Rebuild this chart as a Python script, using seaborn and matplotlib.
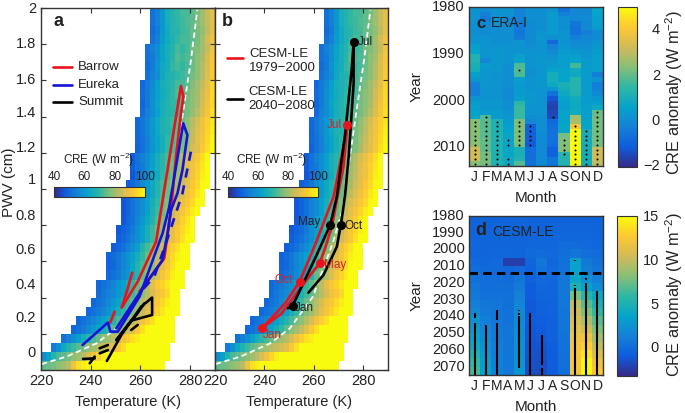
import numpy as np
import pandas as pd
import matplotlib
matplotlib.use("Agg")
import matplotlib.pyplot as plt
from matplotlib.colors import LinearSegmentedColormap
import seaborn as sns

# CRE (W m-2) binned on temperature (2 K) and PWV (0.05 cm), lowest PWV bin first
cre_first_temp = [220, 220, 224, 228, 232, 234, 238, 240, 242, 242,
                  246, 246, 246, 248, 250, 250, 252, 252, 252, 254,
                  254, 256, 256, 256, 258, 258, 258, 258, 260, 260,
                  260, 260, 262, 262, 262, 262, 264, 264, 264, 264]
cre_rows = [
    [74, 75, 76, 78, 80, 82, 90, 96, 98, 100, 100, 100, 100, 100, 100, 100, 100, 100, 100, 100, 100, 100, 100, 100, 100],
    [58, 62, 68, 72, 74, 76, 78, 80, 82, 86, 90, 94, 98, 100, 100, 100, 100, 100, 100, 100, 100, 100, 100, 100, 100, 100],
    [54, 58, 64, 68, 71, 74, 76, 78, 80, 82, 84, 86, 88, 92, 96, 100, 100, 100, 100, 100, 100, 100, 100, 100],
    [52, 55, 58, 62, 66, 69, 72, 75, 78, 80, 82, 86, 90, 93, 96, 98, 100, 100, 100, 100, 100, 100, 100],
    [50, 52, 54, 57, 60, 63, 66, 70, 74, 78, 80, 84, 88, 92, 96, 100, 100, 100, 100, 100, 100],
    [50, 52, 54, 56, 59, 62, 65, 68, 72, 76, 78, 82, 86, 90, 93, 96, 100, 100, 100, 100],
    [50, 52, 54, 56, 59, 62, 66, 70, 74, 77, 80, 84, 88, 91, 94, 97, 100, 100, 100],
    [50, 52, 54, 57, 60, 63, 67, 71, 75, 78, 82, 86, 90, 92, 95, 98, 100, 100],
    [51, 53, 55, 57, 60, 63, 67, 71, 74, 78, 82, 86, 90, 92, 95, 100, 100],
    [50, 52, 54, 56, 59, 62, 66, 70, 74, 78, 83, 88, 92, 94, 97, 100, 100, 100],
    [50, 52, 54, 57, 60, 64, 68, 74, 78, 82, 87, 91, 94, 98, 100, 100],
    [49, 50, 53, 56, 59, 63, 68, 72, 76, 79, 85, 88, 92, 96, 100, 100, 100],
    [49, 51, 53, 56, 59, 62, 66, 70, 75, 78, 83, 87, 91, 95, 98, 100, 100],
    [48, 50, 52, 55, 58, 62, 68, 72, 76, 80, 85, 90, 93, 96, 100, 100],
    [48, 50, 52, 55, 58, 62, 66, 71, 76, 80, 85, 89, 92, 96, 100, 100],
    [47, 49, 51, 54, 58, 62, 66, 71, 75, 79, 84, 88, 92, 95, 98, 100],
    [47, 50, 52, 56, 60, 64, 68, 73, 77, 81, 86, 89, 93, 97, 100],
    [47, 49, 52, 55, 58, 62, 67, 71, 75, 79, 84, 88, 91, 94, 98, 100],
    [47, 49, 52, 55, 58, 62, 66, 70, 74, 77, 82, 86, 89, 92, 95, 99, 100],
    [47, 50, 53, 56, 60, 64, 68, 72, 75, 79, 83, 87, 90, 93, 97, 100],
    [48, 50, 53, 57, 60, 64, 68, 72, 75, 78, 81, 85, 88, 92, 95, 99, 100],
    [47, 51, 54, 58, 62, 65, 70, 73, 76, 80, 84, 88, 90, 94, 98, 100],
    [48, 52, 54, 58, 62, 66, 69, 72, 76, 79, 83, 87, 90, 93, 97, 100],
    [48, 52, 55, 58, 62, 66, 69, 72, 75, 78, 82, 86, 89, 92, 96, 100],
    [49, 52, 55, 59, 63, 66, 70, 72, 75, 77, 81, 85, 88, 92, 96, 100],
    [50, 52, 55, 60, 63, 66, 70, 71, 74, 76, 80, 84, 88, 91, 95, 99],
    [50, 53, 56, 60, 64, 67, 68, 70, 73, 76, 79, 83, 87, 90, 94, 98],
    [50, 53, 56, 60, 64, 67, 69, 71, 73, 75, 78, 82, 86, 90, 93, 97],
    [51, 55, 58, 62, 66, 68, 69, 71, 74, 76, 79, 82, 87, 91, 96],
    [50, 54, 58, 63, 66, 68, 70, 70, 73, 76, 78, 81, 86, 90, 95],
    [51, 54, 58, 62, 65, 67, 70, 73, 72, 76, 78, 80, 85, 89, 95],
    [50, 54, 57, 62, 66, 67, 69, 72, 72, 74, 77, 80, 84, 88, 94],
    [52, 55, 58, 64, 67, 68, 70, 71, 73, 76, 78, 82, 87, 92],
    [51, 54, 59, 64, 66, 70, 72, 70, 72, 75, 78, 82, 86, 92],
    [52, 54, 58, 63, 66, 69, 73, 71, 73, 75, 78, 81, 86, 91],
    [52, 55, 58, 63, 66, 68, 72, 70, 72, 76, 77, 80, 84, 90],
    [52, 55, 61, 65, 67, 70, 72, 72, 74, 76, 80, 85, 90],
    [51, 54, 60, 65, 68, 69, 71, 72, 75, 76, 79, 83, 88],
    [52, 55, 60, 66, 68, 70, 71, 73, 74, 77, 80, 84, 88],
    [52, 55, 60, 66, 68, 70, 72, 72, 74, 76, 80, 84, 88],
]

white_temp = [220.3, 230.3, 242.3, 250.3, 259.6, 267.6, 271.6, 272.9, 276.9, 280.3, 282.9]
white_pwv = [0.033, 0.074, 0.147, 0.23, 0.405, 0.70, 0.884, 1.013, 1.40, 1.71, 1.99]

barrow_segments = [
    ([247.9, 249.6], [0.263, 0.322]),
    ([252.5, 254.9, 256.7], [0.346, 0.451, 0.538]),
    ([252.5, 258.9, 266.3, 268.3, 276.3, 277.3, 276.3, 274.3, 272.3, 271.9, 269.6, 259.6],
     [0.346, 0.488, 0.709, 0.884, 1.569, 1.51, 1.418, 1.179, 0.884, 0.847, 0.617, 0.433]),
]
eureka_temp = [236.7, 246.9, 247.9, 250.9, 259.6, 268.9, 271.6, 274.3, 277.2, 278.9, 276.9, 274.9, 272.3, 270.9, 268.9, 262.3, 256.9, 250.3]
eureka_pwv = [0.138, 0.262, 0.212, 0.212, 0.405, 0.755, 0.902, 1.123, 1.363, 1.298, 1.105, 0.976, 0.884, 0.755, 0.608, 0.479, 0.368, 0.23]
eureka_dash_temp = [280.3, 276.9, 270.9, 265.6, 259.6]
eureka_dash_pwv = [1.206, 0.976, 0.727, 0.516, 0.424]
summit_segments = [
    ([246.5, 252.3, 260.3, 264.7, 264.7, 256.3, 250.3], [0.05, 0.193, 0.35, 0.40, 0.304, 0.273, 0.166]),
    ([250.3, 258.3, 261.6], [0.166, 0.304, 0.368]),
    ([236.9, 241.6], [0.061, 0.064]),
    ([241.6, 239.6], [0.074, 0.037]),
    ([243.6, 246.9], [0.12, 0.138]),
    ([243.6, 246.9], [0.092, 0.11]),
    ([256.3, 258.9], [0.221, 0.249]),
]

past_temp = [239.2, 248.4, 254.2, 260.5, 265.9, 268.0, 273.6, 272.0, 269.3, 267.3, 264.3, 262.3, 256.5, 247.0, 239.2]
past_pwv = [0.234, 0.368, 0.488, 0.691, 0.884, 0.958, 1.354, 1.123, 0.939, 0.792, 0.663, 0.589, 0.488, 0.313, 0.234]
past_months = {"Jan": (239.2, 0.234), "Oct": (254.2, 0.488), "May": (262.3, 0.589), "Jul": (273.6, 1.354)}
future_temp = [249.5, 251.4, 260.5, 266.6, 269.3, 272.7, 275.4, 276.1, 276.1, 274.1, 272.7, 271.8, 270.9, 269.3, 263.9, 257.8]
future_pwv = [0.341, 0.355, 0.617, 0.801, 0.958, 1.308, 1.676, 1.81, 1.584, 1.179, 0.976, 0.884, 0.801, 0.681, 0.525, 0.427]
future_months = {"Jan": (251.4, 0.355), "May": (266.6, 0.801), "Oct": (270.9, 0.801), "Jul": (276.1, 1.81)}

month_letters = ["J", "F", "M", "A", "M", "J", "J", "A", "S", "O", "N", "D"]

# ERA-I anomaly, one row per year from 1980
era_years = list(range(1980, 2014))
era_anomaly = [
    [.2, .1, .2, .2, -.2, .1, .1, .2, -.6, -.1, -.1, .7],
    [.2, -.2, .2, .2, -.2, .1, .1, .4, -.2, -.1, -.1, .6],
    [.2, -.4, .2, 0, -.2, .1, .1, .4, .1, -.1, 0, .5],
    [.1, 0, .2, 0, -.4, 0, .1, .4, .1, -.5, -.1, .5],
    [.1, 0, .1, 0, -.4, 0, .1, .4, .1, -.6, 0, .4],
    [.1, 0, .1, .1, -.5, 0, .2, .4, .2, -.6, -.3, 0],
    [.2, .2, .1, .1, -.4, 0, .3, .1, .2, -.3, -.1, 0],
    [.2, .2, .1, .1, .2, 0, .2, -.8, .2, 0, 0, .2],
    [.5, .2, .2, .2, .2, .1, .2, -.2, .3, .1, .1, .3],
    [.6, .2, .3, .2, .2, .2, .2, 0, .4, .3, .2, .4],
    [1.2, .3, .3, .2, .5, .2, .3, .2, .5, .5, .3, .5],
    [1.2, -.1, .3, .2, .6, .2, .3, .3, .5, .6, .4, .5],
    [1.1, .4, .3, .1, 1.8, .2, .3, .4, .5, 1.7, .4, .5],
    [1.0, .3, .3, .1, 1.9, .1, .3, .6, .6, .9, .4, .5],
    [.5, .3, .2, .1, 1.8, .1, .3, 1.0, .6, .8, .4, -.3],
    [.3, .3, .2, .1, .5, .2, .3, 1.0, .6, 1.3, .4, .2],
    [-.2, .3, .2, .1, .4, .2, .3, .8, 1.1, 1.3, .4, -.3],
    [-.3, .2, .2, 0, .4, .2, .2, .3, 1.0, 1.3, .4, -.2],
    [-.3, .2, .2, 0, .4, .3, .2, -.6, .8, 1.2, .4, 0],
    [.2, .2, .2, 0, .5, .3, .2, -1.2, .6, .9, .4, .3],
    [.4, .3, .3, .1, 1.4, .3, .2, -1.5, .5, .8, .4, .5],
    [.5, .3, .3, .1, 1.6, .2, .2, -1.6, .5, .8, .5, .8],
    [.6, .4, .4, .2, 1.6, .2, .2, -1.5, .6, .9, .5, 2.1],
    [.7, 1.8, .4, .3, 1.6, .1, .1, -1.4, .6, 2.7, .5, 2.2],
    [2.4, 1.9, 1.2, .4, 2.3, -.1, .1, -.8, .6, 2.8, .6, 2.2],
    [2.4, 1.9, 1.2, .5, 2.3, -1.0, .1, -.7, .7, 3.9, .6, 2.2],
    [2.4, 1.9, 1.2, .6, 2.3, -1.0, .1, -.6, .7, 5.0, 1.0, 2.2],
    [2.4, 1.9, 1.2, .7, 2.3, -1.0, 0, -.6, 2.2, 5.0, 1.0, 2.2],
    [2.4, 2.0, 1.2, .7, 2.3, -1.0, 0, -.6, 2.3, 5.0, 1.0, 2.2],
    [2.5, 2.0, 1.2, .7, 2.2, -1.1, 0, -.7, 2.3, 5.0, 1.0, 2.2],
    [3.2, 2.0, 1.2, .7, 1.1, -.7, 0, -1.0, 2.3, 5.0, 1.0, 3.2],
    [3.2, 2.2, 1.2, .7, 1.1, -.7, 0, -1.0, 1.3, 5.0, 1.0, 3.2],
    [3.2, 2.2, 1.2, .8, 1.2, -.7, 0, -.5, 1.3, 5.0, 1.0, 3.2],
    [2.4, 2.2, 1.2, .8, 1.9, -.6, 0, -.5, 1.2, 5.0, 1.0, 3.0],
]
era_stipple = {
    0: list(range(2004, 2014)), 1: list(range(2003, 2014)), 2: list(range(2004, 2014)),
    3: [2008, 2009, 2012, 2013], 4: [1993] + list(range(2004, 2010)), 5: list(range(2005, 2010)),
    7: [2003], 8: list(range(2008, 2012)), 9: list(range(2005, 2014)),
    10: list(range(2006, 2014)), 11: list(range(2002, 2014)),
}

# CESM-LE anomaly, 5 year rows from 1980
cesm_years = list(range(1980, 2075, 5))
cesm_anomaly = [
    [-.4, -.4, -.4, -.3, -.3, -.4, -.4, -.4, -.4, -.4, -.4, -.4],
    [-.4, -.4, -.3, -.3, -.3, -.4, -.4, -.3, -.3, -.3, -.3, -.4],
    [-.3, -.3, -.3, -.3, -.3, -.3, -.3, -.2, -.2, -.2, -.2, -.3],
    [-.2, -.3, -.3, -.3, -.3, -.2, -.2, -.2, .1, .1, -.1, -.2],
    [-.2, -.3, -.2, -.2, -.3, 0, .1, -.1, .3, .6, .2, .1],
    [0, -.2, -.1, -2.2, -2.2, -.3, .8, -.2, .4, 3.5, .9, .4],
    [.2, 0, 0, -.2, -.1, -.4, .5, -.1, .5, 3.6, 1.2, .6],
    [.4, .2, .2, .1, .6, -.6, -.1, -.2, .8, 4, 2.4, 1.3],
    [.6, .3, .4, .3, 1, -.8, -.2, -.3, .8, 5, 3.5, 2.2],
    [.9, .5, .5, .4, 1.4, -.9, -.3, -.3, .8, 8, 5.5, 4],
    [1.3, .8, .6, .4, 1.7, -1, -.5, -.4, .8, 10, 7, 5],
    [1.8, 1, .7, .5, 1.9, -1, -.6, -.4, .7, 10.5, 8, 6],
    [2.4, 1.3, .8, .5, 2, -.9, -.7, -.5, .6, 11, 9.5, 7],
    [3, 1.7, .9, .6, 2.1, -1, -.8, -.5, .6, 11.5, 10.5, 8],
    [3.5, 2, 1, .6, 2.3, -1.1, -1, -.6, .5, 12, 12, 9],
    [4.2, 2.4, 1.1, .7, 2.4, -1.2, -1.2, -.7, .5, 12.3, 13, 10],
    [5, 2.8, 1.2, .7, 2.5, -1.3, -1.4, -.8, .4, 12.5, 14, 11],
    [5.8, 3.2, 1.3, .8, 2.6, -1.4, -1.5, -.8, .4, 12.5, 14.8, 12],
    [6.5, 3.6, 1.5, .9, 2.8, -1.5, -1.6, -.9, .3, 12.2, 15, 12.5],
]
# significant year ranges per month, these run together into solid bars
cesm_stipple = [
    (0, 2038, 2041), (0, 2044, 2075), (1, 2045, 2075), (2, 2036, 2042), (2, 2044, 2075),
    (4, 2036, 2037), (4, 2038, 2039), (4, 2040, 2071), (5, 2038, 2075), (6, 2051, 2069),
    (6, 2071, 2075), (9, 2006, 2007), (9, 2021, 2022), (9, 2023, 2075),
    (10, 2017, 2018), (10, 2020, 2075), (11, 2025, 2075),
]

W, H = 685, 413
sns.set_theme(style="white")
plt.rcParams["font.family"] = ["Liberation Sans", "DejaVu Sans"]
plt.rcParams["mathtext.default"] = "regular"
plt.rcParams["axes.edgecolor"] = "#333333"
plt.rcParams["axes.linewidth"] = 1.0
plt.rcParams["xtick.direction"] = "in"
plt.rcParams["ytick.direction"] = "in"
plt.rcParams["text.color"] = "#222222"
plt.rcParams["axes.labelcolor"] = "#222222"
plt.rcParams["xtick.labelcolor"] = "#222222"
plt.rcParams["ytick.labelcolor"] = "#222222"

parula = LinearSegmentedColormap.from_list("parula", [
    "#352a87", "#0f5cdd", "#1481d6", "#06a4ca", "#2eb7a4",
    "#87bf77", "#d1bb59", "#fec832", "#f9fb0e"])

fig = plt.figure(figsize=(W / 100, H / 100), dpi=100)
LABEL = 10.5


def px_axes(left, top, right, bottom):
    return fig.add_axes([left / W, 1 - bottom / H, (right - left) / W, (bottom - top) / H])


def px_text(x, y, s, **kw):
    kw.setdefault("ha", "center")
    kw.setdefault("va", "center")
    kw.setdefault("fontsize", LABEL)
    return fig.text(x / W, 1 - y / H, s, **kw)


temp_bins = np.arange(220, 290, 2)
pwv_bins = np.round(np.arange(0, 2, 0.05), 2)
cre_grid = np.full((len(pwv_bins), len(temp_bins)), np.nan)
for i, row in enumerate(cre_rows):
    j = (cre_first_temp[i] - 220) // 2
    cre_grid[i, j:j + len(row)] = row
cre_df = pd.DataFrame(cre_grid, index=pwv_bins, columns=temp_bins)


def cre_panel(left, right, cbar_left, cbar_right):
    heat_ax = px_axes(left, 8, right, 370)
    inset = px_axes(cbar_left, 187, cbar_right, 197)
    inset.set_zorder(5)
    sns.heatmap(cre_df, ax=heat_ax, cmap=parula, vmin=40, vmax=100, xticklabels=False, yticklabels=False,
                cbar_ax=inset, cbar_kws={"orientation": "horizontal", "ticks": [40, 60, 80, 100]})
    heat_ax.invert_yaxis()
    heat_ax.set_xlabel("")
    heat_ax.set_ylabel("")
    inset.xaxis.set_ticks_position("top")
    inset.tick_params(length=0, pad=3, labelsize=8.5)
    outline = heat_ax.collections[0].colorbar.outline
    outline.set_edgecolor("#333333")
    outline.set_linewidth(0.8)

    # real units sit on a clear axes over the heatmap
    ax = px_axes(left, 8, right, 370)
    ax.patch.set_visible(False)
    ax.set_xlim(220, 290)
    ax.set_ylim(0, 2)
    ax.set_xticks([220, 240, 260, 280])
    ax.set_yticks(np.arange(0, 2.01, 0.2))
    ax.set_yticklabels([])
    ax.tick_params(top=True, right=True, bottom=True, left=True, length=3.5, width=0.8,
                   color="#333333", labelsize=LABEL, pad=3)
    ax.plot(white_temp, white_pwv, color="white", lw=1.3, ls=(0, (3, 2)))
    return ax


ax_a = cre_panel(41, 215, 54, 145)
for seg_t, seg_p in barrow_segments:
    ax_a.plot(seg_t, seg_p, color="#e8141c", lw=1.9)
ax_a.plot(eureka_temp, eureka_pwv, color="#1414d8", lw=1.9)
ax_a.plot(eureka_dash_temp, eureka_dash_pwv, color="#1414d8", lw=1.9, ls=(0, (3.5, 3)))
for seg_t, seg_p in summit_segments:
    ax_a.plot(seg_t, seg_p, color="black", lw=1.9)

ax_b = cre_panel(215, 388, 228, 318)
ax_b.plot(past_temp, past_pwv, color="#e8141c", lw=1.9)
ax_b.plot(future_temp, future_pwv, color="black", lw=1.9)
for t, p in past_months.values():
    ax_b.plot(t, p, "o", color="#e8141c", ms=5.5)
for t, p in future_months.values():
    ax_b.plot(t, p, "o", color="black", ms=5.5)

# y tick labels sit a little off their ticks in the original
pwv_labels = ["0", "0.2", "0.4", "0.6", "0.8", "1", "1.2", "1.4", "1.6", "1.8", "2"]
pwv_label_y = [353, 318, 285, 250, 216, 180, 148, 113, 80, 44, 9]
for s, y in zip(pwv_labels, pwv_label_y):
    px_text(36, y, s, ha="right")
px_text(9, 182, "PWV (cm)", rotation=90, fontsize=11)
px_text(128, 402, "Temperature (K)", fontsize=10.5)
px_text(299, 402, "Temperature (K)", fontsize=10.5)
px_text(58, 22, "a", fontweight="bold", fontsize=13)
px_text(227, 21, "b", fontweight="bold", fontsize=13)

# legend of panel a
for y, s, c in [(67, "Barrow", "#e8141c"), (85, "Eureka", "#1414d8"), (102, "Summit", "black")]:
    fig.add_artist(plt.Line2D([53 / W, 72 / W], [1 - y / H] * 2, color=c, lw=1.9))
    px_text(78, y, s, ha="left", fontsize=9.5)
# legend of panel b
for y, c in [(58, "#e8141c"), (99, "black")]:
    fig.add_artist(plt.Line2D([227 / W, 243 / W], [1 - y / H] * 2, color=c, lw=1.9))
px_text(249, 54, "CESM-LE", ha="left", fontsize=9.5)
px_text(249, 68, "1979\u22122000", ha="left", fontsize=9.5)
px_text(248, 92, "CESM-LE", ha="left", fontsize=9.5)
px_text(248, 106, "2040\u22122080", ha="left", fontsize=9.5)

for x in (99, 272):
    px_text(x, 160, "CRE (W m$^{-2}$)", fontsize=8.5)

for x, y, s, c in [(365, 42, "Jul", "#222222"), (334, 125, "Jul", "#d0242c"), (309, 222, "May", "#222222"),
                   (354, 226, "Oct", "#222222"), (335, 265, "May", "#d0242c"), (284, 280, "Oct", "#d0242c"),
                   (304, 308, "Jan", "#222222"), (272, 335, "Jan", "#d0242c")]:
    px_text(x, y, s, color=c, fontsize=8.5)

# panel c
ax_c = px_axes(469, 7, 603, 166)
cb_c = px_axes(618, 7, 637, 167)
sns.heatmap(pd.DataFrame(era_anomaly, index=era_years), ax=ax_c, cmap=parula, vmin=-2, vmax=5,
            cbar_ax=cb_c, cbar_kws={"ticks": [-2, 0, 2, 4]})
ax_c.set_yticks(np.arange(0, 31, 10))
ax_c.set_yticklabels([1980, 1990, 2000, 2010], rotation=0)
for month, years in era_stipple.items():
    ax_c.scatter([month + 0.5] * len(years), [y - 1980 + 0.5 for y in years], s=2.2, color="black", linewidths=0)

# panel d
ax_d = px_axes(469, 216, 603, 375)
cb_d = px_axes(617, 216, 637, 376)
sns.heatmap(pd.DataFrame(cesm_anomaly, index=cesm_years), ax=ax_d, cmap=parula, vmin=-3.2, vmax=15.1,
            cbar_ax=cb_d, cbar_kws={"ticks": [0, 5, 10, 15]})
d_years = list(range(1980, 2071, 10))
ax_d.set_yticks([(y - 1980) / 5 for y in d_years])
ax_d.set_yticklabels(d_years, rotation=0)
for month, start, end in cesm_stipple:
    ax_d.plot([month + 0.5] * 2, [(start - 1980) / 5, (end - 1980) / 5], color="black", lw=1.5, solid_capstyle="butt")
ax_d.plot([0, 12.05], [6.8, 6.8], color="black", lw=2.1, ls=(0, (2.9, 1.8)), clip_on=False)

for ax, cb in [(ax_c, cb_c), (ax_d, cb_d)]:
    ax.set_xticks(np.arange(12) + 0.5)
    ax.set_xticklabels(month_letters, rotation=0, fontsize=10)
    ax.tick_params(axis="y", labelsize=LABEL)
    ax.tick_params(top=True, bottom=True, left=True, right=True, length=2, width=0.7,
                   color="#333333", pad=3)
    ax.set_xlabel("Month", fontsize=11, labelpad=5)
    ax.set_ylabel("")
    for side in ax.spines.values():
        side.set_visible(True)
        side.set_color("#333333")
    cb.tick_params(length=2, width=0.7, labelright=False, right=True)
    outline = ax.collections[0].colorbar.outline
    outline.set_edgecolor("#333333")
    outline.set_linewidth(0.8)

for s, y in [("\u22122", 166), ("0", 121), ("2", 76), ("4", 30)]:
    px_text(660, y, s, ha="right")
for s, y in [("0", 348), ("5", 305), ("10", 261), ("15", 217)]:
    px_text(659, y, s, ha="right")

px_text(417, 87, "Year", rotation=90, fontsize=11)
px_text(417, 296, "Year", rotation=90, fontsize=11)
px_text(674, 93, "CRE anomaly (W m$^{-2}$)", rotation=90, fontsize=11.8)
px_text(674, 295, "CRE anomaly (W m$^{-2}$)", rotation=90, fontsize=11.8)
px_text(481, 23, "c", fontweight="bold", fontsize=12)
px_text(491, 23, "ERA-I", ha="left", fontsize=10)
px_text(481, 231, "d", fontweight="bold", fontsize=13)
px_text(492, 232, "CESM-LE", ha="left", fontsize=10)

fig.savefig("out.png", dpi=100)
